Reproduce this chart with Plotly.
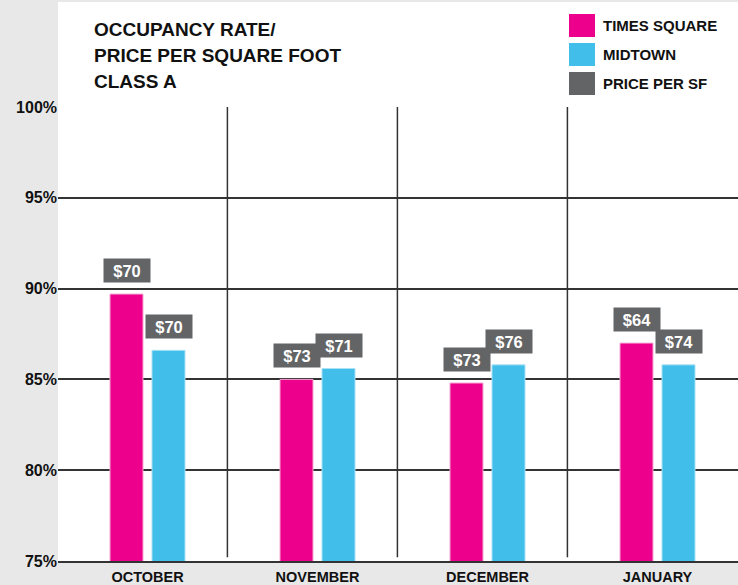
import plotly.graph_objects as go

# ---- data ----
months = ["OCTOBER", "NOVEMBER", "DECEMBER", "JANUARY"]
times_square = [89.7, 85.0, 84.8, 87.0]
midtown = [86.6, 85.6, 85.8, 85.8]
price_times_square = [70, 73, 73, 64]
price_midtown = [70, 71, 76, 74]
y_ticks = [75, 80, 85, 90, 95, 100]
legend_labels = ["TIMES SQUARE", "MIDTOWN", "PRICE PER SF"]
title_lines = ["OCCUPANCY RATE/", "PRICE PER SQUARE FOOT", "CLASS A"]

# ---- style ----
PINK = "#EC008C"
BLUE = "#41BEE9"
GRAY = "#636466"
BG = "#E8E8E8"
FONT = "Liberation Sans"

W, H = 738, 585
ML, MR, MT, MB = 58, 0, 107, 24
PW, PH = W - ML - MR, H - MT - MB

BARGAP = 0.506
GROUPGAP = 0.214
slot = (1 - BARGAP) / 2
offset = slot / 2

xs = list(range(len(months)))
X0 = -0.5265
X1 = X0 + 4.0

fig = go.Figure()
fig.add_trace(go.Bar(x=xs, y=times_square, name=legend_labels[0],
                     marker=dict(color=PINK, line=dict(color="#F6A6D2", width=1)),
                     showlegend=False, hoverinfo="y"))
fig.add_trace(go.Bar(x=xs, y=midtown, name=legend_labels[1],
                     marker=dict(color=BLUE, line=dict(color="#A9E2F6", width=1)),
                     showlegend=False, hoverinfo="y"))

def px_x(p):
    return (p - ML) / PW

def px_y(p):
    return (H - MB - p) / PH

shapes = []
# white panel above plot area
shapes.append(dict(type="rect", xref="paper", yref="paper", x0=0, x1=1,
                   y0=1, y1=px_y(2), fillcolor="white", line=dict(width=0),
                   layer="below"))
# vertical separators between months
for i in range(len(months) - 1):
    xv = i + 0.47
    shapes.append(dict(type="line", xref="x", yref="y", x0=xv, x1=xv,
                       y0=75.2, y1=100, line=dict(color="#333333", width=1.5)))

annotations = []
# title lines
for k, line in enumerate(title_lines):
    annotations.append(dict(x=px_x(92), y=px_y(30 + 25.5 * k), xref="paper", yref="paper",
                            text=f"<b>{line}</b>", showarrow=False,
                            xanchor="left", yanchor="middle",
                            font=dict(family=FONT, size=19, color="#111111")))
# price labels
for i in xs:
    for val, price, sgn in ((times_square[i], price_times_square[i], -1),
                            (midtown[i], price_midtown[i], 1)):
        annotations.append(dict(
            x=i + sgn * offset, y=val, xref="x", yref="y",
            text=f"<b>${price}</b>", showarrow=False,
            yanchor="bottom", xanchor="center", yshift=11,
            width=46, height=23, borderpad=0, bgcolor=GRAY,
            font=dict(family=FONT, size=16.5, color="white")))

# manual legend
leg_colors = [PINK, BLUE, GRAY]
for k, (lab, col) in enumerate(zip(legend_labels, leg_colors)):
    top = 14 + 29 * k
    shapes.append(dict(type="rect", xref="paper", yref="paper",
                       x0=px_x(569), x1=px_x(595), y0=px_y(top + 23), y1=px_y(top),
                       fillcolor=col, line=dict(width=0)))
    annotations.append(dict(x=px_x(601), y=px_y(top + 11.5), xref="paper", yref="paper",
                            text=f"<b>{lab}</b>", showarrow=False,
                            xanchor="left", yanchor="middle",
                            font=dict(family=FONT, size=15, color="#111111")))

fig.update_layout(
    width=W, height=H, autosize=False,
    margin=dict(l=ML, r=MR, t=MT, b=MB, pad=0),
    paper_bgcolor=BG, plot_bgcolor="white",
    barmode="group", bargap=BARGAP, bargroupgap=GROUPGAP,
    shapes=shapes, annotations=annotations,
    showlegend=False,
    xaxis=dict(range=[X0, X1], tickvals=xs, ticktext=[f"<b>{m}</b>" for m in months],
               showgrid=False, zeroline=False, ticks="",
               showline=True, linecolor="#333333", linewidth=2,
               tickfont=dict(family=FONT, size=14.5, color="#111111"),
               ticklabelstandoff=2,
               fixedrange=True),
    yaxis=dict(range=[75, 100], tickvals=y_ticks,
               ticktext=[f"<b>{v}%</b>" for v in y_ticks],
               showgrid=True, gridcolor="#333333", gridwidth=1.5,
               zeroline=False, ticks="", showline=False,
               tickfont=dict(family=FONT, size=16, color="#111111"),
               fixedrange=True),
    font=dict(family=FONT),
)

fig.write_html(
    "out.html",
    config={"displayModeBar": False},
    post_script="document.body.style.margin='0';document.body.style.overflow='hidden';",
)
